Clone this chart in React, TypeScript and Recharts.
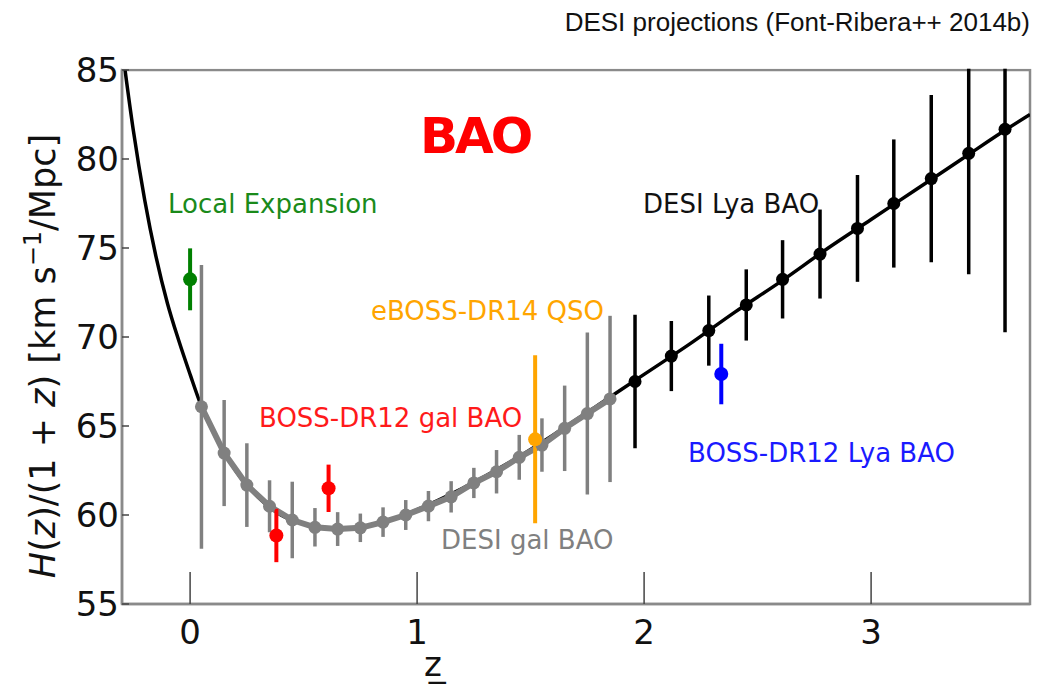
import React from "react";
import { ComposedChart, ErrorBar, Line, ReferenceArea, Scatter, XAxis, YAxis } from "recharts";

// LCDM-like H(z)/(1+z) curve
const curveZ = [-0.3, -0.25, -0.2, -0.15, -0.1, -0.05, 0, 0.05, 0.1, 0.2, 0.3, 0.4, 0.5, 0.6, 0.7, 0.8, 0.9, 1.0, 1.2, 1.4, 1.6, 1.8, 2.0, 2.2, 2.4, 2.6, 2.8, 3.0, 3.2, 3.4, 3.6, 3.7];
const curveH = [86.3, 81.6, 77.7, 74.5, 71.9, 69.8, 67.9, 66.1, 64.7, 62.5, 61.0, 60.0, 59.5, 59.25, 59.25, 59.45, 59.8, 60.3, 61.5, 62.9, 64.5, 66.2, 67.9, 69.6, 71.4, 73.1, 74.9, 76.6, 78.3, 80.0, 81.7, 82.5];

// DESI gal BAO (grey)
const galZ = [0.05, 0.15, 0.25, 0.35, 0.45, 0.55, 0.65, 0.75, 0.85, 0.95, 1.05, 1.15, 1.25, 1.35, 1.45, 1.55, 1.65, 1.75, 1.85];
const galH = [66.08, 63.48, 61.68, 60.49, 59.72, 59.31, 59.21, 59.28, 59.6, 60.0, 60.5, 61.02, 61.8, 62.43, 63.24, 63.93, 64.87, 65.7, 66.52];
const galErr = [7.97, 2.98, 2.35, 1.46, 2.15, 1.08, 0.95, 0.8, 0.83, 0.84, 0.85, 0.88, 0.85, 1.22, 1.26, 1.5, 2.4, 4.55, 4.67];

// DESI Lya BAO (black)
const lyaZ = [1.96, 2.12, 2.285, 2.45, 2.61, 2.775, 2.94, 3.1, 3.265, 3.43, 3.59];
const lyaH = [67.5, 68.93, 70.36, 71.8, 73.24, 74.66, 76.1, 77.5, 78.9, 80.32, 81.67];
const lyaErr = [3.75, 1.97, 1.97, 2.0, 2.2, 2.5, 3.0, 3.6, 4.7, 6.8, 11.4];

// current measurements
const localZ = [0];
const localH = [73.24];
const localErr = [1.74];

const bossGalZ = [0.38, 0.61];
const bossGalH = [58.85, 61.5];
const bossGalErr = [1.5, 1.33];

const qsoZ = [1.52];
const qsoH = [64.25];
const qsoErr = [4.72];

const bossLyaZ = [2.34];
const bossLyaH = [67.92];
const bossLyaErr = [1.7];

const xTicks = [0, 1, 2, 3];
const yTicks = [55, 60, 65, 70, 75, 80, 85];

const rows = (z: number[], h: number[], err?: number[]) =>
  z.map((v, i) => ({ z: v, h: h[i], err: err ? err[i] : 0 }));

const curveData = rows(curveZ, curveH);
const galData = rows(galZ, galH, galErr);
const lyaData = rows(lyaZ, lyaH, lyaErr);

const FONT = "DejaVu Sans";

function dot(color: string, r: number) {
  return (p: any) => <circle cx={p.cx} cy={p.cy} r={r} fill={color} />;
}

export default function App() {
  const grey = "#808080";
  return (
    <div style={{ position: "absolute", left: 0, top: 0, width: 1037, height: 690, background: "#fff" }}>
      <ComposedChart width={1037} height={690} margin={{ top: 70, right: 7, bottom: 26, left: 62 }}>
        <XAxis
          type="number"
          dataKey="z"
          domain={[-0.3, 3.7]}
          ticks={xTicks}
          allowDataOverflow
          height={60}
          tickSize={-32}
          tickMargin={48}
          axisLine={{ stroke: "#8a8a8a", strokeWidth: 2.5 }}
          tickLine={{ stroke: "#444", strokeWidth: 1.5 }}
          tick={{ fontSize: 34, fill: "#111", fontFamily: FONT }}
        />
        <YAxis
          type="number"
          dataKey="h"
          domain={[55, 85]}
          ticks={yTicks}
          allowDataOverflow
          width={60}
          tickSize={-7}
          tickMargin={10}
          axisLine={{ stroke: "#8a8a8a", strokeWidth: 2.5 }}
          tickLine={{ stroke: "#444", strokeWidth: 1.5 }}
          tick={{ fontSize: 34, fill: "#111", fontFamily: FONT }}
        />
        <ReferenceArea x1={-0.3} x2={3.7} y1={55} y2={85} fill="none" fillOpacity={0} stroke="#8a8a8a" strokeWidth={2.5} />

        <Line data={curveData} dataKey="h" type="monotone" stroke="#000" strokeWidth={3.5} dot={false} isAnimationActive={false} />
        <Line data={galData} dataKey="h" type="linear" stroke={grey} strokeWidth={6} dot={false} isAnimationActive={false} />

        <Scatter data={galData} dataKey="h" fill={grey} shape={dot(grey, 6.5)} isAnimationActive={false}>
          <ErrorBar dataKey="err" direction="y" width={0} stroke={grey} strokeWidth={3.5} />
        </Scatter>
        <Scatter data={lyaData} dataKey="h" fill="#000" shape={dot("#000", 6.5)} isAnimationActive={false}>
          <ErrorBar dataKey="err" direction="y" width={0} stroke="#000" strokeWidth={3.5} />
        </Scatter>
        <Scatter data={rows(localZ, localH, localErr)} dataKey="h" fill="#008000" shape={dot("#008000", 7)} isAnimationActive={false}>
          <ErrorBar dataKey="err" direction="y" width={0} stroke="#008000" strokeWidth={4} />
        </Scatter>
        <Scatter data={rows(bossGalZ, bossGalH, bossGalErr)} dataKey="h" fill="#ff0000" shape={dot("#ff0000", 7)} isAnimationActive={false}>
          <ErrorBar dataKey="err" direction="y" width={0} stroke="#ff0000" strokeWidth={4} />
        </Scatter>
        <Scatter data={rows(qsoZ, qsoH, qsoErr)} dataKey="h" fill="#ffa500" shape={dot("#ffa500", 7)} isAnimationActive={false}>
          <ErrorBar dataKey="err" direction="y" width={0} stroke="#ffa500" strokeWidth={4} />
        </Scatter>
        <Scatter data={rows(bossLyaZ, bossLyaH, bossLyaErr)} dataKey="h" fill="#0000ff" shape={dot("#0000ff", 7)} isAnimationActive={false}>
          <ErrorBar dataKey="err" direction="y" width={0} stroke="#0000ff" strokeWidth={4} />
        </Scatter>
      </ComposedChart>

      <svg width={1037} height={690} style={{ position: "absolute", left: 0, top: 0, pointerEvents: "none" }}>
        {/* hide error bars running past the top of the frame */}
        <rect x={122} y={0} width={915} height={68.7} fill="#fff" />
        <text x={1030} y={31} textAnchor="end" fontSize={26} fontFamily="Liberation Sans" fill="#111">
          DESI projections (Font-Ribera++ 2014b)
        </text>
        <text x={420} y={153} fontSize={50} fontWeight="bold" fontFamily={FONT} letterSpacing={-3} fill="#ff0000">
          BAO
        </text>
        <g fontFamily={FONT} fontSize={26}>
          <text x={168} y={213} fill="#1a8a1a">Local Expansion</text>
          <text x={643} y={213} fill="#111">DESI Lya BAO</text>
          <text x={604} y={320} textAnchor="end" fill="#ffa500">eBOSS-DR14 QSO</text>
          <text x={259} y={427} fill="#ff1a1a">BOSS-DR12 gal BAO</text>
          <text x={688} y={462} fill="#1a1aff">BOSS-DR12 Lya BAO</text>
          <text x={441} y={549} fill={grey}>DESI gal BAO</text>
        </g>
        <text
          x={55}
          y={356}
          transform="rotate(-90, 55, 356)"
          textAnchor="middle"
          fontFamily={FONT}
          fontSize={35}
          fill="#111"
        >
          <tspan fontStyle="italic">H</tspan>(<tspan fontStyle="italic">z</tspan>)/(1 + <tspan fontStyle="italic">z</tspan>) [km s
          <tspan fontSize={24} dy={-14}>−1</tspan>
          <tspan dy={14}>/Mpc]</tspan>
        </text>
        <text x={424} y={676} fontFamily={FONT} fontSize={34} letterSpacing={-13} fill="#111">
          z_
        </text>
      </svg>
    </div>
  );
}
